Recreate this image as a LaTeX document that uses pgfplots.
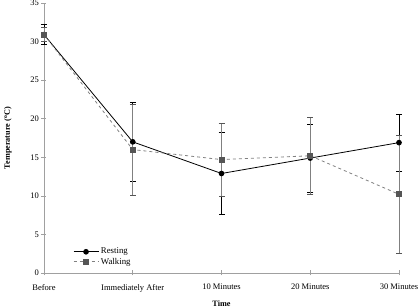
\documentclass[border=0pt]{standalone}
\usepackage{fontspec}
\setmainfont{Liberation Serif}
\usepackage{pgfplots}
\pgfplotsset{compat=1.18}
\definecolor{walkmark}{HTML}{555555}
\definecolor{walkline}{HTML}{808080}
\definecolor{axisgray}{HTML}{A0A0A0}
\begin{document}
\begin{tikzpicture}
\path[use as bounding box] (-44pt,-34pt) rectangle (374pt,273pt);
\begin{axis}[
  scale only axis, width=355pt, height=270pt,
  xmin=0, xmax=4, ymin=0, ymax=35,
  axis lines*=left,
  axis line style={axisgray, line width=0.6pt},
  xtick={0,1,2,3,4},
  xticklabels={Before, Immediately After, 10 Minutes, 20 Minutes, 30 Minutes},
  ytick={0,5,...,35},
  tick align=center,
  major tick length=5pt,
  tick style={axisgray, line width=0.6pt},
  tick label style={font=\fontsize{8.5}{10}\selectfont},
  /pgf/number format/assume math mode=true,
  xticklabel style={yshift=-5pt},
  yticklabel style={xshift=1pt},
  xlabel={\textbf{Time}},
  ylabel={\textbf{Temperature (\textsuperscript{o}C)}},
  label style={font=\fontsize{8.2}{10}\selectfont},
  xlabel style={yshift=-2pt},
  ylabel style={yshift=12pt},
  clip=false,
  legend style={at={(0.073,0.012)}, anchor=south west, draw=none, fill=none,
    font=\fontsize{8.8}{10}\selectfont, row sep=-1.5pt},
  legend cell align=left,
  legend image code/.code={\draw[mark repeat=2,mark phase=2,#1] plot coordinates {(0cm,0cm) (0.44cm,0cm) (0.88cm,0cm)};},
]
\addplot[black, line width=0.8pt, mark=*, mark size=2.4pt, mark options={solid, fill=black},
  error bars/.cd, y dir=both, y explicit,
  error bar style={black, line width=0.6pt, solid},
  error mark options={rotate=90, black, mark size=3pt, line width=0.6pt}]
  coordinates {
  (0,30.9) +- (0,1.3)
  (1,17.0) +- (0,5.1)
  (2,12.9) +- (0,5.3)
  (3,14.9) +- (0,4.4)
  (4,16.9) +- (0,3.7)
};
\addlegendentry{Resting}
\addplot[walkline, dashed, line width=0.8pt, mark=square*, mark size=2.5pt,
  mark options={solid, fill=walkmark, draw=walkmark},
  error bars/.cd, y dir=both, y explicit,
  error bar style={walkline, line width=0.6pt, solid},
  error mark options={rotate=90, walkmark, mark size=3pt, line width=0.6pt}]
  coordinates {
  (0,30.9) +- (0,0.9)
  (1,16.0) +- (0,5.9)
  (2,14.7) +- (0,4.7)
  (3,15.2) +- (0,5.0)
  (4,10.2) +- (0,7.7)
};
\addlegendentry{Walking}
\end{axis}
\end{tikzpicture}
\end{document}
